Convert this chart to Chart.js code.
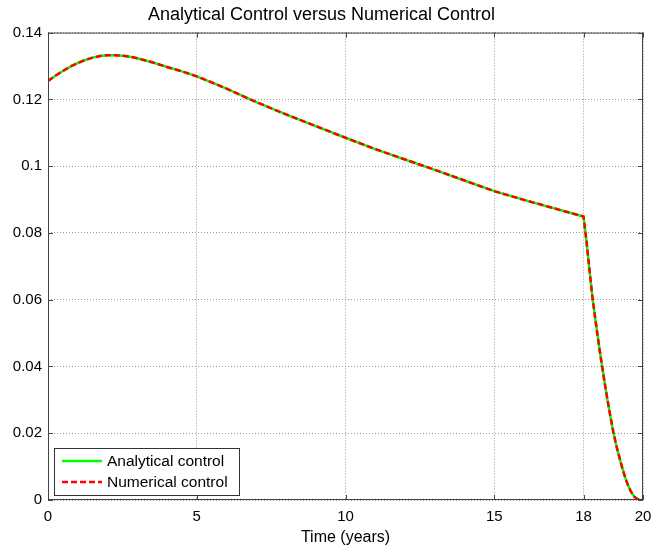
<!DOCTYPE html>
<html>
<head>
<meta charset="utf-8">
<script src="https://cdn.jsdelivr.net/npm/chart.js@4/dist/chart.umd.min.js"></script>
<style>
  html, body { margin: 0; padding: 0; background: #fff; }
  #wrap { width: 651px; height: 550px; }
</style>
</head>
<body>
<div id="wrap"><canvas id="chart"></canvas></div>
<script>
const timeYears = [0, 0.25, 0.5, 0.75, 1, 1.25, 1.5, 1.75, 2, 2.25, 2.5, 2.75, 3, 3.25, 3.5, 4, 4.5, 5, 5.5, 6, 6.5, 7,
  8, 9, 10, 11, 12, 13, 14, 15, 16, 17, 18,
  18.05, 18.1, 18.2, 18.3, 18.4, 18.5, 18.6, 18.7, 18.8, 18.9, 19, 19.1, 19.2, 19.3, 19.4, 19.5, 19.6, 19.7, 19.8, 19.9, 20];
const analyticalControl = [0.1255, 0.1271, 0.1285, 0.1298, 0.1309, 0.1318, 0.1325, 0.1330, 0.1332, 0.1332, 0.1331, 0.1328,
  0.1323, 0.1317, 0.1311, 0.1297, 0.1284, 0.1269, 0.1251, 0.1232, 0.1212, 0.1192,
  0.1155, 0.1120, 0.1085, 0.1051, 0.1020, 0.0989, 0.0957, 0.0925, 0.0899, 0.0874, 0.0849,
  0.0812, 0.0775, 0.0690, 0.0607, 0.0540, 0.0476, 0.0415, 0.0358, 0.0303, 0.0252, 0.0205, 0.0164, 0.0130, 0.0097,
  0.0068, 0.0043, 0.0024, 0.0011, 0.0003, 0, 0];
const numericalControl = [0.1255, 0.1271, 0.1285, 0.1298, 0.1309, 0.1318, 0.1325, 0.1330, 0.1332, 0.1332, 0.1331, 0.1328,
  0.1323, 0.1317, 0.1311, 0.1297, 0.1284, 0.1269, 0.1251, 0.1232, 0.1212, 0.1192,
  0.1155, 0.1120, 0.1085, 0.1051, 0.1020, 0.0989, 0.0957, 0.0925, 0.0899, 0.0874, 0.0849,
  0.0812, 0.0775, 0.0690, 0.0607, 0.0540, 0.0476, 0.0415, 0.0358, 0.0303, 0.0252, 0.0205, 0.0164, 0.0130, 0.0097,
  0.0068, 0.0043, 0.0024, 0.0011, 0.0003, 0, 0];
const seriesNames = ["Analytical control", "Numerical control"];
const xTicks = [0, 5, 10, 15, 18, 20];
const yTicks = [0, 0.02, 0.04, 0.06, 0.08, 0.1, 0.12, 0.14];
const yTickLabels = ["0", "0.02", "0.04", "0.06", "0.08", "0.1", "0.12", "0.14"];

const FONT = "'Liberation Sans', Arial, Helvetica, sans-serif";

const toPoints = (xs, ys) => xs.map((x, i) => ({ x: x, y: ys[i] }));

// matlab style box, inward ticks and a legend in the lower left corner
const matlabBox = {
  id: 'matlabBox',
  afterDraw(chart) {
    const { ctx, chartArea: a, scales } = chart;
    ctx.save();
    ctx.strokeStyle = '#444';
    ctx.lineWidth = 1;
    ctx.strokeRect(a.left + 0.5, a.top + 0.5, a.right - a.left - 1, a.bottom - a.top - 1);
    ctx.beginPath();
    xTicks.forEach(v => {
      const px = Math.round(scales.x.getPixelForValue(v)) + 0.5;
      ctx.moveTo(px, a.bottom); ctx.lineTo(px, a.bottom - 5);
      ctx.moveTo(px, a.top); ctx.lineTo(px, a.top + 5);
    });
    yTicks.forEach(v => {
      const py = Math.round(scales.y.getPixelForValue(v)) + 0.5;
      ctx.moveTo(a.left, py); ctx.lineTo(a.left + 5, py);
      ctx.moveTo(a.right, py); ctx.lineTo(a.right - 5, py);
    });
    ctx.stroke();

    // legend
    const bx = 54.5, by = 448.5, bw = 185, bh = 47;
    ctx.fillStyle = '#fff';
    ctx.fillRect(bx, by, bw, bh);
    ctx.strokeStyle = '#333';
    ctx.strokeRect(bx, by, bw, bh);
    ctx.font = '15.5px ' + FONT;
    ctx.textBaseline = 'middle';
    const rows = [461, 482];
    chart.data.datasets.forEach((ds, i) => {
      ctx.beginPath();
      ctx.strokeStyle = ds.borderColor;
      ctx.lineWidth = ds.borderWidth;
      ctx.setLineDash(ds.borderDash || []);
      ctx.moveTo(62, rows[i]); ctx.lineTo(102, rows[i]);
      ctx.stroke();
      ctx.setLineDash([]);
      ctx.fillStyle = '#000';
      ctx.fillText(ds.label, 107, rows[i] + 1);
    });
    ctx.restore();
  }
};

new Chart(document.getElementById('chart').getContext('2d'), {
  type: 'line',
  data: {
    datasets: [
      {
        label: seriesNames[0],
        data: toPoints(timeYears, analyticalControl),
        borderColor: '#00ff00',
        borderWidth: 2.5,
        pointRadius: 0,
        tension: 0,
        order: 2
      },
      {
        label: seriesNames[1],
        data: toPoints(timeYears, numericalControl),
        borderColor: '#ff0000',
        borderWidth: 2.5,
        borderDash: [6, 3],
        pointRadius: 0,
        tension: 0,
        order: 1
      }
    ]
  },
  options: {
    responsive: true,
    maintainAspectRatio: false,
    animation: false,
    layout: { padding: { left: 0, right: 8, top: 0, bottom: 0 } },
    plugins: {
      legend: { display: false },
      tooltip: { enabled: false },
      title: {
        display: true,
        text: 'Analytical Control versus Numerical Control',
        color: '#000',
        font: { family: FONT, size: 18, weight: 'normal' },
        padding: { top: 4, bottom: 7 }
      }
    },
    scales: {
      x: {
        type: 'linear',
        min: 0,
        max: 20,
        afterBuildTicks: s => { s.ticks = xTicks.map(v => ({ value: v })); },
        afterFit: s => { s.height = 50; s.paddingLeft = 0; s.paddingRight = 0; },
        grid: { color: '#999', drawTicks: false },
        border: { display: false, dash: [1, 2] },
        ticks: { color: '#000', font: { family: FONT, size: 15 }, padding: 8, maxRotation: 0 },
        title: {
          display: true,
          text: 'Time (years)',
          color: '#000',
          font: { family: FONT, size: 16 },
          padding: { top: 0, bottom: 3 }
        }
      },
      y: {
        min: 0,
        max: 0.14,
        afterBuildTicks: s => { s.ticks = yTicks.map(v => ({ value: v })); },
        afterFit: s => { s.width = 48; s.paddingTop = 0; s.paddingBottom = 0; },
        grid: { color: '#999', drawTicks: false },
        border: { display: false, dash: [1, 2] },
        ticks: {
          color: '#000',
          font: { family: FONT, size: 15 },
          padding: 6,
          callback: (v) => yTickLabels[yTicks.findIndex(t => Math.abs(t - v) < 1e-9)]
        }
      }
    }
  },
  plugins: [matlabBox]
});
</script>
</body>
</html>
